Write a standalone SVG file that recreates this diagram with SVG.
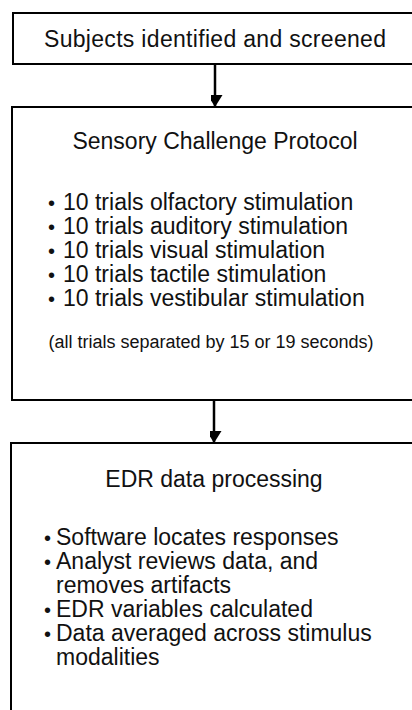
<svg xmlns="http://www.w3.org/2000/svg" width="412" height="710" viewBox="0 0 412 710">
<style>
.box{fill:#fff;stroke:#000;stroke-width:2}
.t{font-family:"Liberation Sans",Arial,sans-serif;font-size:23px;fill:#111}
.n{font-family:"Liberation Sans",Arial,sans-serif;font-size:18px;fill:#111}
.c{text-anchor:middle}
.b{font-size:20px}
.line{stroke:#000;stroke-width:2.5;fill:none}
</style>
<defs>
<marker id="ah" markerWidth="15" markerHeight="12" refX="12" refY="7.5" orient="auto" markerUnits="userSpaceOnUse">
<path d="M0,0 L12,7.5 L0,15 Z" fill="#000"/>
</marker>
</defs>
<rect width="412" height="710" fill="#fff"/>
<g id="connectors">
<line class="line" x1="215" y1="64" x2="215" y2="107" marker-end="url(#ah)"/>
<line class="line" x1="214" y1="400" x2="214" y2="443" marker-end="url(#ah)"/>
</g>
<g id="node-subjects">
<rect class="box" x="13" y="13" width="410" height="51"/>
<text class="t c" x="215" y="47" textLength="342" lengthAdjust="spacing">Subjects identified and screened</text>
</g>
<g id="node-protocol">
<rect class="box" x="12" y="107" width="411" height="293"/>
<text class="t c" x="215" y="149">Sensory Challenge Protocol</text>
<text class="t" x="48" y="210"><tspan class="b">•</tspan><tspan x="63">10 trials olfactory stimulation</tspan></text>
<text class="t" x="48" y="234"><tspan class="b">•</tspan><tspan x="63">10 trials auditory stimulation</tspan></text>
<text class="t" x="48" y="258"><tspan class="b">•</tspan><tspan x="63">10 trials visual stimulation</tspan></text>
<text class="t" x="48" y="282"><tspan class="b">•</tspan><tspan x="63">10 trials tactile stimulation</tspan></text>
<text class="t" x="48" y="306"><tspan class="b">•</tspan><tspan x="63">10 trials vestibular stimulation</tspan></text>
<text class="n c" x="211" y="348">(all trials separated by 15 or 19 seconds)</text>
</g>
<g id="node-edr">
<rect class="box" x="11" y="443" width="412" height="280"/>
<text class="t c" x="214" y="487">EDR data processing</text>
<text class="t" x="44" y="545"><tspan class="b">•</tspan><tspan x="56">Software locates responses</tspan></text>
<text class="t" x="44" y="569"><tspan class="b">•</tspan><tspan x="56">Analyst reviews data, and</tspan></text>
<text class="t" x="56" y="593">removes artifacts</text>
<text class="t" x="44" y="617"><tspan class="b">•</tspan><tspan x="56">EDR variables calculated</tspan></text>
<text class="t" x="44" y="641"><tspan class="b">•</tspan><tspan x="56">Data averaged across stimulus</tspan></text>
<text class="t" x="56" y="665">modalities</text>
</g>
</svg>
